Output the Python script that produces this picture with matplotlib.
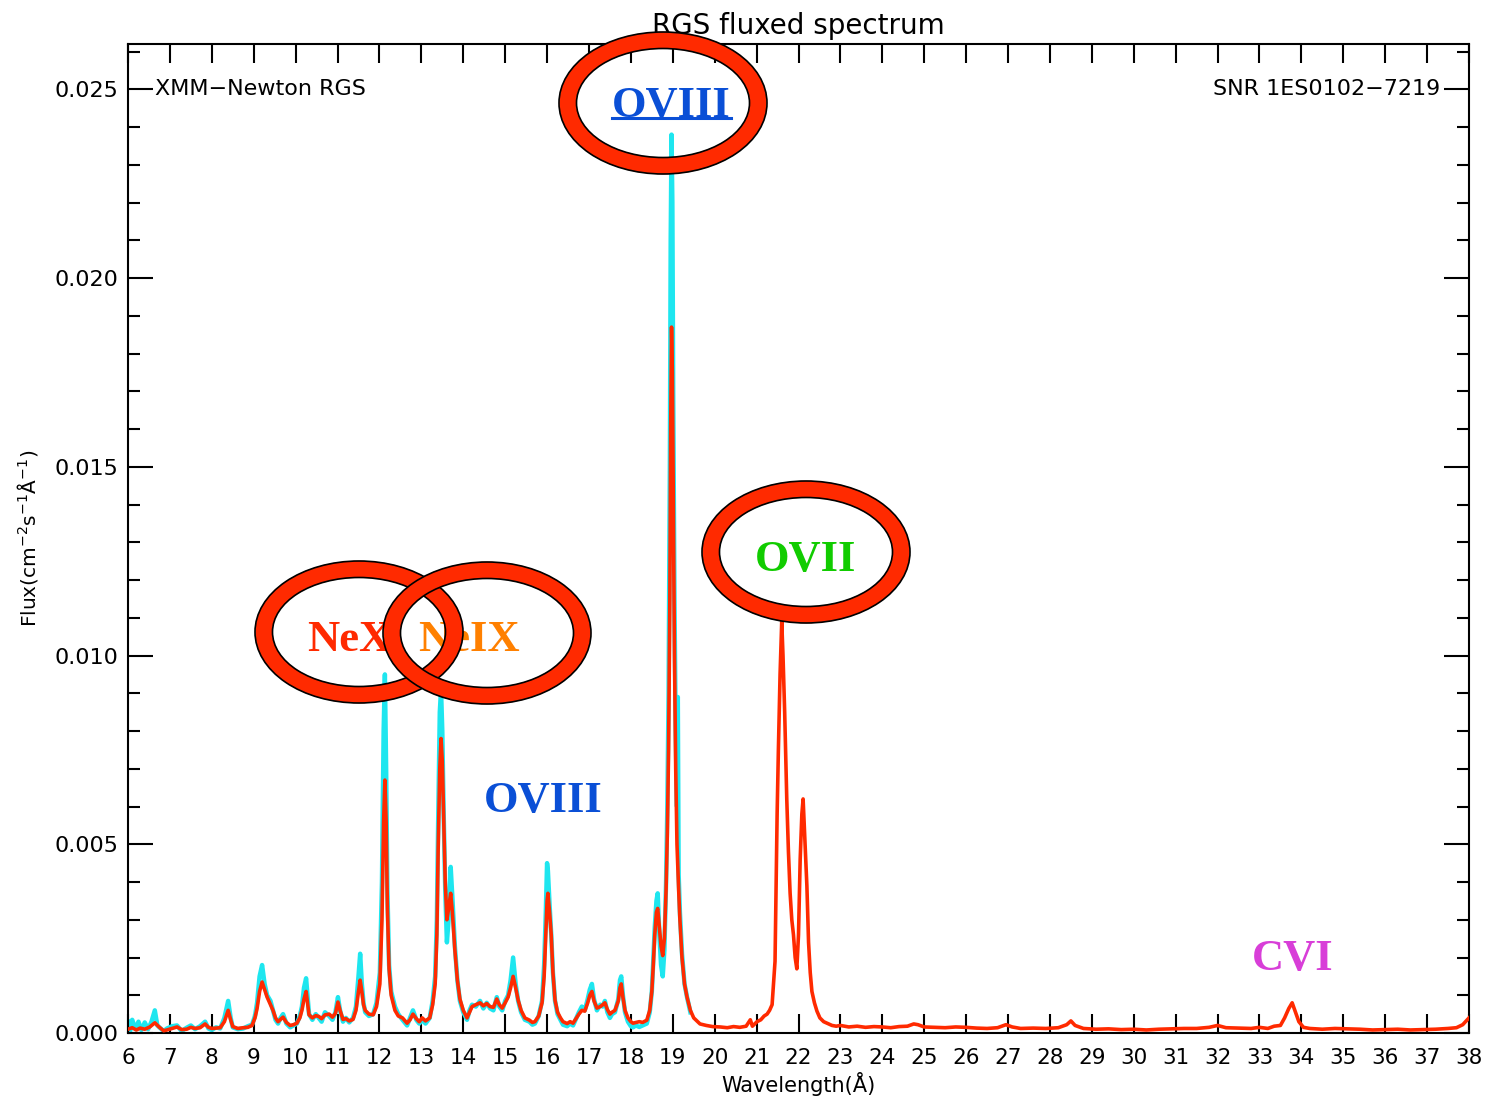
import matplotlib
matplotlib.use("Agg")
import matplotlib.pyplot as plt
from matplotlib.patches import Ellipse
from matplotlib.lines import Line2D
from matplotlib.ticker import MultipleLocator, FormatStrFormatter

# region DATA
red_wave = [
    6.00, 6.10, 6.20, 6.29, 6.40, 6.52, 6.64, 6.75, 6.85, 6.93, 7.05, 7.17, 7.28, 7.40,
    7.50, 7.60, 7.72, 7.84, 7.92, 8.00, 8.10, 8.20, 8.30, 8.39, 8.45, 8.50, 8.62, 8.75,
    8.86, 8.96, 9.03, 9.08, 9.14, 9.20, 9.26, 9.32, 9.40, 9.46, 9.52, 9.58, 9.64, 9.70,
    9.78, 9.87, 9.95, 10.03, 10.10, 10.15, 10.20, 10.25, 10.29, 10.32, 10.40, 10.48,
    10.55, 10.62, 10.70, 10.80, 10.88, 10.95, 11.01, 11.06, 11.13, 11.20, 11.28, 11.37,
    11.44, 11.50, 11.54, 11.58, 11.62, 11.66, 11.75, 11.85, 11.93, 12.01, 12.06, 12.10,
    12.13, 12.16, 12.19, 12.23, 12.28, 12.37, 12.45, 12.55, 12.66, 12.73, 12.80, 12.88,
    12.95, 13.02, 13.10, 13.20, 13.27, 13.33, 13.37, 13.40, 13.44, 13.47, 13.50, 13.53,
    13.57, 13.61, 13.65, 13.70, 13.74, 13.80, 13.86, 13.92, 14.00, 14.09, 14.15, 14.21,
    14.30, 14.40, 14.48, 14.56, 14.64, 14.72, 14.80, 14.86, 14.93, 15.00, 15.07, 15.13,
    15.19, 15.25, 15.31, 15.38, 15.47, 15.58, 15.65, 15.71, 15.80, 15.88, 15.93, 15.97,
    16.00, 16.02, 16.06, 16.10, 16.14, 16.19, 16.25, 16.32, 16.38, 16.48, 16.55, 16.62,
    16.70, 16.76, 16.83, 16.90, 16.97, 17.02, 17.07, 17.12, 17.19, 17.27, 17.33, 17.38,
    17.44, 17.50, 17.55, 17.62, 17.70, 17.74, 17.77, 17.81, 17.86, 17.93, 18.00, 18.05,
    18.12, 18.20, 18.28, 18.38, 18.45, 18.50, 18.53, 18.57, 18.61, 18.64, 18.68, 18.72,
    18.76, 18.80, 18.84, 18.87, 18.90, 18.93, 18.95, 18.97, 18.99, 19.01, 19.04, 19.07,
    19.10, 19.14, 19.17, 19.22, 19.28, 19.34, 19.42, 19.50, 19.65, 19.80, 19.95, 20.13,
    20.30, 20.45, 20.60, 20.75, 20.85, 20.90, 21.01, 21.10, 21.18, 21.25, 21.31, 21.37,
    21.44, 21.49, 21.52, 21.56, 21.60, 21.63, 21.67, 21.72, 21.76, 21.80, 21.84, 21.88,
    21.92, 21.96, 22.00, 22.04, 22.08, 22.11, 22.15, 22.20, 22.24, 22.28, 22.32, 22.38,
    22.44, 22.51, 22.60, 22.68, 22.80, 22.90, 23.00, 23.20, 23.40, 23.60, 23.80, 24.00,
    24.20, 24.40, 24.60, 24.75, 24.85, 25.00, 25.25, 25.50, 25.75, 26.00, 26.25, 26.50,
    26.75, 26.95, 27.10, 27.30, 27.60, 27.90, 28.20, 28.40, 28.50, 28.60, 28.80, 29.10,
    29.40, 29.70, 30.00, 30.30, 30.60, 30.90, 31.20, 31.50, 31.80, 32.00, 32.20, 32.50,
    32.80, 33.00, 33.20, 33.35, 33.50, 33.60, 33.70, 33.78, 33.86, 33.94, 34.05, 34.20,
    34.50, 34.80, 35.10, 35.40, 35.70, 36.00, 36.30, 36.60, 36.90, 37.20, 37.50, 37.70,
    37.85, 38.00,
]
red_flux = [
    0.00010, 0.00014, 0.00008, 0.00013, 0.00010, 0.00016, 0.00027, 0.00015, 0.00006, 0.00008,
    0.00012, 0.00016, 0.00009, 0.00010, 0.00015, 0.00012, 0.00014, 0.00024, 0.00015, 0.00012,
    0.00013, 0.00014, 0.00030, 0.00060, 0.00035, 0.00017, 0.00012, 0.00014, 0.00015, 0.00020,
    0.00040, 0.00065, 0.00110, 0.00135, 0.00115, 0.00095, 0.00075, 0.00060, 0.00040, 0.00030,
    0.00036, 0.00042, 0.00028, 0.00020, 0.00022, 0.00026, 0.00040, 0.00060, 0.00090, 0.00110,
    0.00075, 0.00048, 0.00040, 0.00046, 0.00044, 0.00038, 0.00048, 0.00050, 0.00042, 0.00052,
    0.00082, 0.00060, 0.00036, 0.00038, 0.00032, 0.00036, 0.00060, 0.00110, 0.00140, 0.00110,
    0.00075, 0.00060, 0.00050, 0.00048, 0.00070, 0.00130, 0.00300, 0.00560, 0.00670, 0.00560,
    0.00330, 0.00170, 0.00100, 0.00060, 0.00045, 0.00040, 0.00026, 0.00035, 0.00050, 0.00038,
    0.00030, 0.00040, 0.00032, 0.00040, 0.00075, 0.00130, 0.00260, 0.00480, 0.00700, 0.00780,
    0.00720, 0.00580, 0.00400, 0.00300, 0.00330, 0.00370, 0.00320, 0.00220, 0.00140, 0.00090,
    0.00060, 0.00040, 0.00055, 0.00070, 0.00075, 0.00080, 0.00072, 0.00078, 0.00070, 0.00068,
    0.00090, 0.00075, 0.00066, 0.00080, 0.00095, 0.00120, 0.00150, 0.00120, 0.00087, 0.00060,
    0.00040, 0.00034, 0.00028, 0.00030, 0.00045, 0.00080, 0.00150, 0.00260, 0.00350, 0.00370,
    0.00320, 0.00260, 0.00160, 0.00087, 0.00055, 0.00040, 0.00030, 0.00025, 0.00030, 0.00026,
    0.00040, 0.00050, 0.00060, 0.00058, 0.00080, 0.00100, 0.00110, 0.00085, 0.00066, 0.00070,
    0.00075, 0.00080, 0.00062, 0.00050, 0.00055, 0.00060, 0.00085, 0.00120, 0.00130, 0.00095,
    0.00060, 0.00040, 0.00030, 0.00026, 0.00028, 0.00030, 0.00028, 0.00034, 0.00060, 0.00110,
    0.00170, 0.00260, 0.00320, 0.00330, 0.00280, 0.00230, 0.00205, 0.00250, 0.00380, 0.00530,
    0.00750, 0.01150, 0.01600, 0.01870, 0.01750, 0.01450, 0.01000, 0.00700, 0.00500, 0.00380,
    0.00300, 0.00200, 0.00130, 0.00095, 0.00060, 0.00040, 0.00024, 0.00020, 0.00017, 0.00016,
    0.00014, 0.00017, 0.00015, 0.00018, 0.00035, 0.00018, 0.00030, 0.00035, 0.00045, 0.00050,
    0.00060, 0.00075, 0.00190, 0.00580, 0.00750, 0.00950, 0.01090, 0.01000, 0.00850, 0.00620,
    0.00480, 0.00370, 0.00300, 0.00260, 0.00200, 0.00170, 0.00260, 0.00460, 0.00580, 0.00620,
    0.00520, 0.00390, 0.00240, 0.00160, 0.00110, 0.00080, 0.00058, 0.00040, 0.00030, 0.00026,
    0.00020, 0.00018, 0.00020, 0.00016, 0.00018, 0.00015, 0.00017, 0.00016, 0.00014, 0.00017,
    0.00018, 0.00024, 0.00022, 0.00016, 0.00015, 0.00014, 0.00016, 0.00015, 0.00013, 0.00012,
    0.00014, 0.00022, 0.00016, 0.00012, 0.00013, 0.00012, 0.00014, 0.00022, 0.00032, 0.00020,
    0.00012, 0.00010, 0.00011, 0.00009, 0.00010, 0.00008, 0.00010, 0.00011, 0.00012, 0.00012,
    0.00015, 0.00020, 0.00014, 0.00013, 0.00012, 0.00015, 0.00012, 0.00018, 0.00020, 0.00040,
    0.00065, 0.00080, 0.00055, 0.00030, 0.00015, 0.00012, 0.00010, 0.00012, 0.00011, 0.00010,
    0.00008, 0.00009, 0.00010, 0.00008, 0.00009, 0.00010, 0.00012, 0.00014, 0.00022, 0.00040,
]

cyan_wave = [
    6.00, 6.05, 6.10, 6.18, 6.25, 6.32, 6.40, 6.48, 6.56, 6.64, 6.70, 6.78, 6.85, 6.93,
    7.05, 7.17, 7.28, 7.40, 7.50, 7.60, 7.72, 7.84, 7.92, 8.00, 8.10, 8.20, 8.30, 8.39,
    8.45, 8.50, 8.62, 8.75, 8.86, 8.96, 9.03, 9.08, 9.14, 9.20, 9.26, 9.32, 9.40, 9.46,
    9.52, 9.58, 9.64, 9.70, 9.78, 9.87, 9.95, 10.03, 10.10, 10.15, 10.20, 10.25, 10.29,
    10.32, 10.40, 10.48, 10.55, 10.62, 10.70, 10.80, 10.88, 10.95, 11.01, 11.06, 11.13,
    11.20, 11.28, 11.37, 11.44, 11.50, 11.54, 11.58, 11.62, 11.66, 11.75, 11.85, 11.93,
    12.01, 12.06, 12.10, 12.13, 12.16, 12.19, 12.23, 12.28, 12.37, 12.45, 12.55, 12.66,
    12.73, 12.80, 12.88, 12.95, 13.02, 13.10, 13.20, 13.27, 13.33, 13.37, 13.40, 13.44,
    13.47, 13.50, 13.53, 13.57, 13.61, 13.65, 13.70, 13.74, 13.80, 13.86, 13.92, 14.00,
    14.09, 14.15, 14.21, 14.30, 14.40, 14.48, 14.56, 14.64, 14.72, 14.80, 14.86, 14.93,
    15.00, 15.07, 15.13, 15.19, 15.25, 15.31, 15.38, 15.47, 15.58, 15.65, 15.71, 15.80,
    15.88, 15.93, 15.97, 16.00, 16.02, 16.06, 16.10, 16.14, 16.19, 16.25, 16.32, 16.38,
    16.48, 16.55, 16.62, 16.70, 16.76, 16.83, 16.90, 16.97, 17.02, 17.07, 17.12, 17.19,
    17.27, 17.33, 17.38, 17.44, 17.50, 17.55, 17.62, 17.70, 17.74, 17.77, 17.81, 17.86,
    17.93, 18.00, 18.05, 18.12, 18.20, 18.28, 18.38, 18.45, 18.50, 18.53, 18.57, 18.61,
    18.64, 18.68, 18.72, 18.76, 18.80, 18.84, 18.87, 18.90, 18.93, 18.95, 18.97, 18.99,
    19.01, 19.04, 19.07, 19.10, 19.12, 19.14, 19.17, 19.22, 19.28, 19.34, 19.42,
]
cyan_flux = [
    0.00030, 0.00005, 0.00035, 0.00010, 0.00030, 0.00008, 0.00028, 0.00010, 0.00030, 0.00060,
    0.00020, 0.00012, 0.00005, 0.00012, 0.00018, 0.00020, 0.00005, 0.00014, 0.00020, 0.00010,
    0.00018, 0.00030, 0.00012, 0.00008, 0.00015, 0.00012, 0.00040, 0.00085, 0.00040, 0.00015,
    0.00010, 0.00012, 0.00018, 0.00022, 0.00045, 0.00080, 0.00150, 0.00180, 0.00130, 0.00100,
    0.00085, 0.00060, 0.00035, 0.00025, 0.00040, 0.00050, 0.00025, 0.00015, 0.00020, 0.00025,
    0.00045, 0.00070, 0.00120, 0.00145, 0.00090, 0.00050, 0.00035, 0.00050, 0.00040, 0.00030,
    0.00055, 0.00045, 0.00035, 0.00055, 0.00095, 0.00060, 0.00030, 0.00040, 0.00028, 0.00040,
    0.00070, 0.00150, 0.00210, 0.00130, 0.00080, 0.00055, 0.00045, 0.00050, 0.00080, 0.00160,
    0.00400, 0.00800, 0.00950, 0.00700, 0.00380, 0.00180, 0.00110, 0.00070, 0.00050, 0.00035,
    0.00020, 0.00040, 0.00060, 0.00035, 0.00025, 0.00035, 0.00025, 0.00040, 0.00085, 0.00150,
    0.00300, 0.00550, 0.00850, 0.00910, 0.00800, 0.00600, 0.00380, 0.00240, 0.00300, 0.00440,
    0.00360, 0.00230, 0.00140, 0.00085, 0.00055, 0.00035, 0.00060, 0.00075, 0.00070, 0.00085,
    0.00065, 0.00080, 0.00065, 0.00060, 0.00095, 0.00070, 0.00060, 0.00085, 0.00100, 0.00140,
    0.00200, 0.00130, 0.00085, 0.00055, 0.00035, 0.00030, 0.00022, 0.00025, 0.00045, 0.00085,
    0.00180, 0.00320, 0.00450, 0.00430, 0.00340, 0.00260, 0.00160, 0.00085, 0.00050, 0.00035,
    0.00022, 0.00018, 0.00025, 0.00020, 0.00040, 0.00055, 0.00070, 0.00060, 0.00090, 0.00115,
    0.00130, 0.00090, 0.00060, 0.00075, 0.00070, 0.00085, 0.00055, 0.00040, 0.00050, 0.00055,
    0.00090, 0.00140, 0.00150, 0.00100, 0.00055, 0.00030, 0.00018, 0.00015, 0.00020, 0.00016,
    0.00020, 0.00025, 0.00055, 0.00110, 0.00180, 0.00280, 0.00350, 0.00370, 0.00260, 0.00180,
    0.00150, 0.00220, 0.00400, 0.00600, 0.00900, 0.01500, 0.02100, 0.02380, 0.02200, 0.01700,
    0.01150, 0.00800, 0.00600, 0.00890, 0.00420, 0.00320, 0.00210, 0.00130, 0.00095, 0.00055,
]

# line labels: text, colour, left edge (A), baseline (flux)
labels = [
    ("NeX", "#ff2a00", 10.27, 0.01013),
    ("NeIX", "#ff8000", 12.92, 0.01013),
    ("OVIII", "#0a4fd6", 14.50, 0.00585),
    ("OVII", "#11cc00", 20.96, 0.01225),
    ("CVI", "#d83ed8", 32.83, 0.00167),
]
top_label = ("OVIII", "#0a4fd6", 17.55, 0.02426)

# ring centres in figure pixels (from top-left)
ring_centres = [(359, 632), (487, 633), (663, 103), (806, 552)]
# endregion

W, H = 1486, 1103
fig = plt.figure(figsize=(W / 100, H / 100), dpi=100)
ax = fig.add_axes([128 / W, 1 - 1033 / H, (1469 - 128) / W, (1033 - 44) / H])

ax.plot(cyan_wave, cyan_flux, color="#1ee6ef", lw=3.2, zorder=2)
ax.plot(red_wave, red_flux, color="#ff2a00", lw=2.6, zorder=3)

ax.set_xlim(6, 38)
ax.set_ylim(0, 0.0262)

ax.xaxis.set_major_locator(MultipleLocator(1))
ax.yaxis.set_major_locator(MultipleLocator(0.005))
ax.yaxis.set_minor_locator(MultipleLocator(0.001))
ax.yaxis.set_major_formatter(FormatStrFormatter("%.3f"))
ax.tick_params(which="both", direction="in", top=True, right=True, width=1.5, colors="black")
ax.tick_params(axis="x", which="major", length=14, labelsize=15.5, pad=11)
ax.tick_params(axis="y", which="major", length=18, labelsize=16, pad=7)
ax.tick_params(axis="y", which="minor", length=8.5)
for s in ax.spines.values():
    s.set_linewidth(1.5)

ax.set_title("RGS fluxed spectrum", fontsize=20, pad=7)
ax.set_xlabel("Wavelength(Å)", fontsize=15, labelpad=3)
ax.set_ylabel("Flux(cm$^{-2}$s$^{-1}$Å$^{-1}$)", fontsize=14.5, labelpad=10)

ax.text(6.64, 0.025, "XMM\u2212Newton RGS", fontsize=16, va="center", ha="left")
ax.text(37.31, 0.025, "SNR 1ES0102\u22127219", fontsize=16, va="center", ha="right")

serif = dict(family="Liberation Serif", fontweight="bold", fontsize=32, va="baseline", ha="left")
for txt, col, x0, y0 in labels:
    ax.text(x0, y0, txt, color=col, zorder=4, **serif)
top_txt = ax.text(top_label[2], top_label[3], top_label[0], color=top_label[1], zorder=4, **serif)

# underline the top OVIII like a link
fig.canvas.draw()
bb = top_txt.get_window_extent(fig.canvas.get_renderer())
fig.add_artist(Line2D([bb.x0, bb.x1], [bb.y0 + 8, bb.y0 + 8], transform=None,
                      color=top_label[1], lw=2.2, zorder=6))

# red rings with black edges
for cx, cy in ring_centres:
    c = (cx / 100, (H - cy) / 100)
    band = Ellipse(c, 1.905, 1.255, fill=False, ec="#ff2a00", lw=12.2,
                   transform=fig.dpi_scale_trans, zorder=5)
    outer = Ellipse(c, 2.08, 1.42, fill=False, ec="black", lw=1.2,
                    transform=fig.dpi_scale_trans, zorder=5)
    inner = Ellipse(c, 1.73, 1.09, fill=False, ec="black", lw=1.2,
                    transform=fig.dpi_scale_trans, zorder=5)
    for p in (band, outer, inner):
        fig.add_artist(p)

plt.savefig("out.png", dpi=100)
